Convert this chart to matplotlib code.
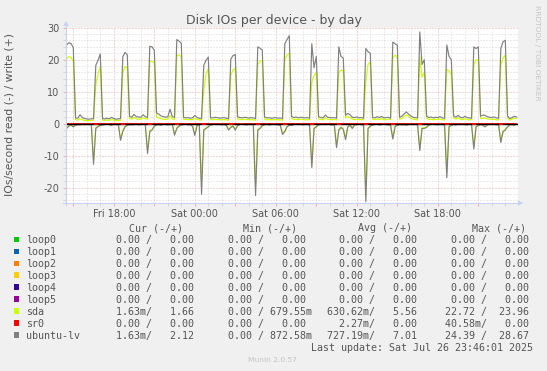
import numpy as np
import matplotlib
matplotlib.use("Agg")
import matplotlib.pyplot as plt
from matplotlib.lines import Line2D
from matplotlib.patches import Polygon, Rectangle
from matplotlib.ticker import FixedLocator, MultipleLocator

plt.rcParams['font.family'] = ['DejaVu Sans']

W, H = 547, 371

# ---------------- data ----------------
# samples every 10 minutes, first sample Fri 14:30 (hours counted from Fri 00:00)
start_hour = 14.5
step_hours = 1.0 / 6.0

# ubuntu-lv writes (+)
write_lv = [
    24.6, 25.3, 25.0, 23.8, 1.8, 1.7, 2.8, 1.9, 1.6, 1.5, 1.4, 1.5,
    1.6, 18.2, 19.8, 21.8, 1.6, 1.5, 1.7, 1.5, 2.0, 1.6, 1.4, 1.5,
    1.6, 20.9, 22.3, 21.5, 2.3, 2.0, 2.9, 2.2, 2.1, 2.0, 2.8, 2.2,
    2.0, 24.2, 24.0, 23.0, 3.3, 3.0, 2.4, 2.2, 2.0, 2.1, 4.5, 2.2,
    2.0, 26.3, 25.8, 25.2, 2.0, 1.8, 1.9, 1.7, 1.8, 2.6, 1.9, 1.7,
    1.6, 18.3, 19.8, 20.8, 1.9, 1.8, 2.0, 1.9, 1.7, 1.8, 1.9, 1.7,
    1.6, 20.2, 21.3, 21.6, 2.2, 1.9, 1.8, 2.0, 1.9, 1.7, 1.9, 1.8,
    1.6, 24.0, 23.6, 23.0, 2.1, 1.8, 1.9, 1.7, 1.8, 1.9, 1.7, 1.8,
    1.6, 25.0, 26.3, 27.5, 2.3, 1.9, 2.1, 1.8, 2.0, 1.9, 1.8, 1.9,
    1.7, 25.0, 17.5, 21.0, 2.2, 1.9, 1.8, 2.7, 2.0, 1.9, 1.8, 1.9,
    1.7, 24.0, 21.0, 20.5, 2.6, 3.2, 2.8, 2.0, 1.9, 2.1, 1.8, 1.9,
    1.7, 23.5, 22.5, 22.0, 2.0, 1.8, 2.2, 1.9, 2.3, 1.8, 1.9, 2.0,
    1.7, 25.5, 25.0, 24.5, 2.0, 2.3, 3.0, 3.7, 3.0, 2.4, 2.0, 1.9,
    1.8, 28.67, 18.5, 20.0, 2.4, 1.9, 2.1, 1.8, 2.0, 1.9, 2.2, 1.8,
    1.7, 24.6, 21.0, 20.0, 2.5, 2.0, 2.6, 2.0, 1.8, 2.3, 1.9, 1.8,
    1.7, 24.0, 23.5, 24.0, 2.3, 2.7, 2.6, 2.2, 2.0, 1.9, 2.1, 1.8,
    1.7, 23.5, 25.6, 26.1, 2.4, 1.6, 1.9, 2.3, 2.12,
]

# sda writes (+)
write_sda = [
    20.2, 21.0, 20.6, 19.5, 1.2, 1.1, 1.6, 1.2, 1.0, 1.0, 0.9, 1.0,
    1.1, 12.0, 15.5, 17.8, 1.1, 1.0, 1.2, 1.0, 1.4, 1.1, 0.9, 1.0,
    1.1, 16.0, 17.8, 17.5, 1.6, 1.4, 2.0, 1.5, 1.4, 1.4, 1.9, 1.5,
    1.4, 19.5, 19.5, 19.0, 2.0, 1.8, 1.5, 1.4, 1.3, 1.4, 2.5, 1.5,
    1.3, 21.3, 21.5, 20.8, 1.4, 1.3, 1.3, 1.2, 1.3, 1.7, 1.3, 1.2,
    1.1, 10.5, 15.5, 17.2, 1.3, 1.2, 1.4, 1.3, 1.2, 1.2, 1.3, 1.2,
    1.1, 15.2, 16.8, 17.4, 1.5, 1.3, 1.2, 1.4, 1.3, 1.2, 1.3, 1.2,
    1.1, 18.5, 19.5, 19.8, 1.4, 1.2, 1.3, 1.2, 1.2, 1.3, 1.2, 1.2,
    1.1, 20.0, 21.5, 22.0, 1.6, 1.3, 1.4, 1.2, 1.4, 1.3, 1.2, 1.3,
    1.2, 13.0, 15.0, 16.0, 1.5, 1.3, 1.2, 1.8, 1.4, 1.3, 1.2, 1.3,
    1.2, 16.0, 16.8, 16.5, 1.8, 2.2, 1.9, 1.4, 1.3, 1.4, 1.2, 1.3,
    1.2, 13.0, 18.5, 19.4, 1.4, 1.3, 1.5, 1.3, 1.6, 1.2, 1.3, 1.4,
    1.2, 20.5, 21.5, 20.5, 1.4, 1.6, 2.2, 2.8, 2.3, 1.7, 1.4, 1.3,
    1.2, 21.0, 14.5, 16.0, 1.7, 1.3, 1.4, 1.2, 1.4, 1.3, 1.5, 1.2,
    1.2, 17.0, 16.5, 15.3, 1.8, 1.4, 1.8, 1.4, 1.2, 1.6, 1.3, 1.2,
    1.2, 18.3, 20.0, 19.8, 1.6, 1.7, 1.8, 1.5, 1.4, 1.3, 1.4, 1.2,
    1.2, 18.3, 20.4, 21.5, 1.7, 1.1, 1.4, 1.7, 1.66,
]

# ubuntu-lv reads (-), magnitudes
read_lv = [
    1.5, 0.8, 0.4, 1.0, 0.5, 0.3, 0.4, 0.2, 0.3, 0.2, 0.3, 0.2,
    12.7, 1.5, 0.9, 0.6, 0.4, 0.3, 0.2, 0.3, 0.5, 0.2, 0.3, 0.2,
    5.2, 2.5, 1.0, 0.5, 0.3, 0.4, 0.3, 0.2, 0.4, 0.3, 0.2, 0.3,
    9.3, 2.5, 2.0, 0.8, 0.4, 0.3, 0.5, 0.2, 0.3, 0.4, 0.3, 0.2,
    3.6, 1.5, 0.8, 0.4, 0.3, 0.2, 0.4, 0.3, 0.8, 3.7, 0.6, 0.3,
    22.1, 2.0, 1.5, 1.0, 0.4, 0.3, 0.2, 0.3, 0.2, 0.4, 0.3, 0.5,
    2.0, 1.2, 0.8, 2.0, 0.6, 0.3, 0.2, 0.3, 0.4, 0.2, 0.3, 0.2,
    22.5, 2.0, 1.5, 0.6, 0.3, 0.2, 0.4, 0.3, 0.2, 0.3, 0.4, 0.5,
    3.4, 2.5, 1.0, 0.5, 0.6, 0.3, 0.2, 0.3, 0.2, 0.4, 0.3, 0.2,
    0.5, 13.7, 1.5, 1.0, 0.4, 0.3, 0.2, 0.3, 0.2, 0.3, 0.4, 0.3,
    7.5, 2.0, 1.2, 1.8, 5.0, 1.0, 0.5, 1.5, 0.4, 0.3, 0.2, 0.3,
    0.5, 24.39, 1.5, 0.8, 0.4, 0.3, 0.2, 0.4, 0.3, 0.2, 0.3, 0.4,
    0.5, 4.8, 1.0, 0.5, 0.3, 0.4, 0.3, 0.5, 0.3, 0.2, 0.3, 0.2,
    0.4, 8.4, 1.5, 1.5, 1.2, 0.4, 0.3, 0.2, 0.3, 0.4, 0.2, 0.3,
    0.4, 16.9, 1.0, 0.5, 0.3, 0.4, 0.2, 0.3, 0.2, 0.3, 0.4, 0.2,
    0.3, 7.9, 1.0, 0.6, 0.3, 0.5, 1.0, 0.4, 0.2, 0.3, 0.2, 0.4,
    0.3, 5.9, 2.5, 2.0, 1.0, 0.4, 0.3, 0.5, 0.0,
]

# sda reads (-), magnitudes
read_sda = [
    1.3, 0.7, 0.3, 0.9, 0.4, 0.2, 0.3, 0.2, 0.2, 0.2, 0.2, 0.2,
    11.5, 1.3, 0.8, 0.5, 0.3, 0.2, 0.2, 0.2, 0.4, 0.2, 0.2, 0.2,
    4.6, 2.2, 0.9, 0.4, 0.2, 0.3, 0.2, 0.2, 0.3, 0.2, 0.2, 0.2,
    8.4, 2.2, 1.8, 0.7, 0.3, 0.2, 0.4, 0.2, 0.2, 0.3, 0.2, 0.2,
    3.2, 1.3, 0.7, 0.3, 0.2, 0.2, 0.3, 0.2, 0.7, 3.3, 0.5, 0.2,
    18.5, 1.8, 1.3, 0.9, 0.3, 0.2, 0.2, 0.2, 0.2, 0.3, 0.2, 0.4,
    1.7, 1.0, 0.7, 1.8, 0.5, 0.2, 0.2, 0.2, 0.3, 0.2, 0.2, 0.2,
    19.7, 1.8, 1.3, 0.5, 0.2, 0.2, 0.3, 0.2, 0.2, 0.2, 0.3, 0.4,
    3.0, 2.2, 0.9, 0.4, 0.5, 0.2, 0.2, 0.2, 0.2, 0.3, 0.2, 0.2,
    0.4, 12.9, 1.3, 0.9, 0.3, 0.2, 0.2, 0.2, 0.2, 0.2, 0.3, 0.2,
    6.8, 1.8, 1.0, 1.6, 4.5, 0.9, 0.4, 1.3, 0.3, 0.2, 0.2, 0.2,
    0.4, 22.72, 1.3, 0.7, 0.3, 0.2, 0.2, 0.3, 0.2, 0.2, 0.2, 0.3,
    0.4, 4.3, 0.9, 0.4, 0.2, 0.3, 0.2, 0.4, 0.2, 0.2, 0.2, 0.2,
    0.3, 7.6, 1.3, 1.3, 1.0, 0.3, 0.2, 0.2, 0.2, 0.3, 0.2, 0.2,
    0.3, 15.0, 0.9, 0.4, 0.2, 0.3, 0.2, 0.2, 0.2, 0.2, 0.3, 0.2,
    0.2, 7.1, 0.9, 0.5, 0.2, 0.4, 0.9, 0.3, 0.2, 0.2, 0.2, 0.3,
    0.2, 5.3, 2.2, 1.8, 0.9, 0.3, 0.2, 0.4, 0.0,
]

# sr0 reads: sparse (sample index, value), zero elsewhere
sr0_read_idx = [13, 25, 37, 49, 61, 73, 85, 97, 109, 121, 133, 145, 157, 169, 181, 193]
sr0_read_val = [0.04, 0.03, 0.04, 0.03, 0.04, 0.04, 0.04, 0.03, 0.04, 0.03, 0.04, 0.04, 0.04, 0.03, 0.04, 0.04]

xtick_hours = [18, 24, 30, 36, 42]
xtick_labels = ["Fri 18:00", "Sat 00:00", "Sat 06:00", "Sat 12:00", "Sat 18:00"]
ytick_values = [-20, -10, 0, 10, 20, 30]

# legend table
dev_names = ["loop0", "loop1", "loop2", "loop3", "loop4", "loop5", "sda", "sr0", "ubuntu-lv"]
dev_colors = ["#00CC00", "#0066B3", "#FF8000", "#FFCC00", "#330099", "#990099",
              "#CCFF00", "#FF0000", "#808080"]
cur_read = [0, 0, 0, 0, 0, 0, 0.00163, 0, 0.00163]
cur_write = [0, 0, 0, 0, 0, 0, 1.66, 0, 2.12]
min_read = [0, 0, 0, 0, 0, 0, 0, 0, 0]
min_write = [0, 0, 0, 0, 0, 0, 0.67955, 0, 0.87258]
avg_read = [0, 0, 0, 0, 0, 0, 0.63062, 0.00227, 0.72719]
avg_write = [0, 0, 0, 0, 0, 0, 5.56, 0, 7.01]
max_read = [0, 0, 0, 0, 0, 0, 22.72, 0.04058, 24.39]
max_write = [0, 0, 0, 0, 0, 0, 23.96, 0, 28.67]

title = "Disk IOs per device - by day"
ylabel = "IOs/second read (-) / write (+)"
last_update = "Last update: Sat Jul 26 23:46:01 2025"
version = "Munin 2.0.57"
side_text = "RRDTOOL / TOBI OETIKER"

# ---------------- figure ----------------
BG = "#F0F0F0"
TXT = "#555555"
MGRID = "#F0AAAA"
GRID = "#D6D6D6"
AXIS = "#C8D0F4"

fig = plt.figure(figsize=(W / 100, H / 100), dpi=100, facecolor=BG)


def fx(x):
    return x / W


def fy(y):
    return 1 - y / H


x_left, x_right = 66, 518
y_top, y_bot = 27.7, 203
ax = fig.add_axes([fx(x_left), fy(y_bot), (x_right - x_left) / W, (y_bot - y_top) / H])
ax.set_facecolor("white")
for s in ax.spines.values():
    s.set_visible(False)

ax.set_xlim(14.46, 47.94)
ax.set_ylim(-24.8, 30.0)

major_x = list(range(15, 48, 3))
ax.xaxis.set_major_locator(FixedLocator(major_x))
ax.xaxis.set_minor_locator(MultipleLocator(1))
lab_map = dict(zip(xtick_hours, xtick_labels))
ax.set_xticklabels([lab_map.get(h, "") for h in major_x])
ax.yaxis.set_major_locator(FixedLocator(ytick_values))
ax.yaxis.set_minor_locator(MultipleLocator(2))
ax.set_yticklabels([str(v) for v in ytick_values])

ax.grid(which="major", color=MGRID, lw=0.72, ls=(0, (1, 2)))
ax.grid(which="minor", color=GRID, lw=0.72, ls=(0, (1, 2)))
ax.set_axisbelow(True)
ax.tick_params(which="major", length=2, width=0.72, color=MGRID, labelsize=7, labelcolor=TXT)
ax.tick_params(which="minor", length=2, width=0.72, color=GRID)
ax.tick_params(axis="x", which="major", pad=2.5)
ax.tick_params(axis="y", which="major", pad=2.9)

N = len(write_lv)
t = start_hour + np.arange(N) * step_hours
sr0_read = np.zeros(N)
sr0_read[sr0_read_idx] = sr0_read_val

lw = 0.85
ax.plot(t, write_sda, color="#CCFF00", lw=lw, zorder=3)
ax.plot(t, -np.array(read_sda), color="#CCFF00", lw=lw, zorder=3)
ax.plot(t, -sr0_read, color="#FF0000", lw=lw, zorder=3)
ax.plot(t, write_lv, color="#808080", lw=lw, zorder=4)
ax.plot(t, -np.array(read_lv), color="#808080", lw=lw, zorder=4)
ax.axhline(0, color="black", lw=1.0, zorder=5)
ax.plot(t[sr0_read_idx], -sr0_read[sr0_read_idx], ls="none", marker="_", ms=3.5,
        mew=1.4, color="#FF0000", zorder=6)

# axis lines with arrows
fig.add_artist(Line2D([fx(x_left), fx(x_left)], [fy(y_bot + 2), fy(y_top - 2)], color=AXIS, lw=0.8))
fig.add_artist(Line2D([fx(x_left - 3), fx(x_right + 1)], [fy(y_bot), fy(y_bot)], color=AXIS, lw=0.8))
fig.add_artist(Polygon([(fx(x_left - 2.7), fy(26)), (fx(x_left + 2.7), fy(26)), (fx(x_left), fy(21))],
                       closed=True, color=AXIS, lw=0))
fig.add_artist(Polygon([(fx(518), fy(y_bot - 2.7)), (fx(518), fy(y_bot + 2.7)), (fx(523), fy(y_bot))],
                       closed=True, color=AXIS, lw=0))

# title, labels
fig.text(0.5, fy(24), title, ha="center", va="baseline", fontsize=9, color=TXT)
fig.text(fx(10), fy(114), ylabel, ha="center", va="center", rotation=90, fontsize=7.8, color=TXT)
fig.text(fx(536.7), fy(53), side_text, ha="center", va="center", rotation=270, fontsize=5.4, color="#C4C4C4")

# legend
MONO = "DejaVu Sans Mono"
LFS = 7.2


def fmt(v):
    if v != 0 and abs(v) < 1:
        return v * 1000, "m"
    return v, " "


def cell(a, b):
    a, sa = fmt(a)
    b, sb = fmt(b)
    return f"{a:6.2f}{sa}/{b:7.2f}{sb}"


hdr_x = [129.0, 243.1, 357.9, 472.5]
col_x = [103.6, 215.6, 326.6, 438.9]
hdr_base = 231.1
row0_center = 239.3
row_step = 11.96
for x, h in zip(hdr_x, ["Cur (-/+)", "Min (-/+)", "Avg (-/+)", "Max (-/+)"]):
    fig.text(fx(x), fy(hdr_base), h, ha="left", va="baseline", family=MONO, fontsize=LFS, color=TXT)

for k, name in enumerate(dev_names):
    cy = row0_center + k * row_step
    base = cy + 3.65
    fig.add_artist(Rectangle((fx(13.9), fy(cy + 2.7)), 5.4 / W, 5.4 / H,
                             facecolor=dev_colors[k], edgecolor="none", transform=fig.transFigure))
    fig.text(fx(26.0), fy(base), name, ha="left", va="baseline", family=MONO, fontsize=LFS, color=TXT)
    cells = [cell(cur_read[k], cur_write[k]), cell(min_read[k], min_write[k]),
             cell(avg_read[k], avg_write[k]), cell(max_read[k], max_write[k])]
    for x, c in zip(col_x, cells):
        fig.text(fx(x), fy(base), c, ha="left", va="baseline", family=MONO, fontsize=LFS, color=TXT)

fig.text(fx(532.7), fy(row0_center + 9 * row_step + 3.65), last_update, ha="right", va="baseline",
         family=MONO, fontsize=LFS, color=TXT)
fig.text(fx(272.9), fy(360), version, ha="center", va="center", fontsize=5.4, color="#C4C4C4")

fig.savefig("out.png", dpi=100, facecolor=BG)
